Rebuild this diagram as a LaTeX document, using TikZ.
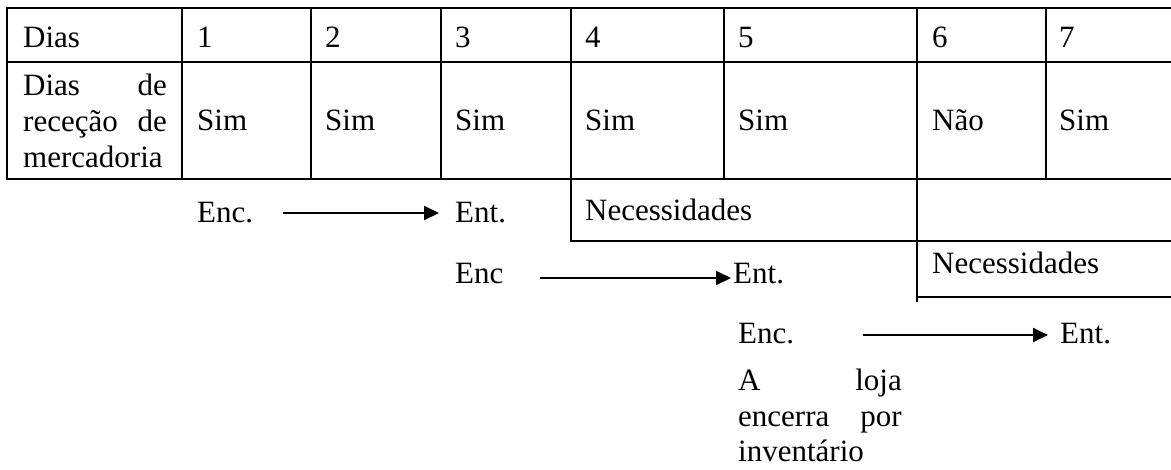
\documentclass[tikz,border=0pt]{standalone}
\usepackage{fontspec}
\setmainfont{Liberation Serif}
\usetikzlibrary{arrows.meta}
\begin{document}
\begin{tikzpicture}[x=1pt,y=-1pt,
 grid/.style={line width=2pt},
 txt/.style={anchor=base west, inner sep=0pt, font=\fontsize{31}{36}\selectfont},
 txtr/.style={anchor=base east, inner sep=0pt, font=\fontsize{31}{36}\selectfont},
 flow/.style={line width=2pt, -{Triangle[length=15pt,width=14pt]}}]
\useasboundingbox (0,0) rectangle (1171,469);
% table grid
\draw[grid] (6,8) -- (1171,8);
\draw[grid] (6,62) -- (1171,62);
\draw[grid] (6,179) -- (1171,179);
\foreach \x in {7,182,311,441,571,724,917,1046} \draw[grid] (\x,7) -- (\x,180);
% header row
\node[txt] (hdias) at (23,47) {Dias};
\node[txt] (h1) at (197,47) {1};
\node[txt] (h2) at (325,47) {2};
\node[txt] (h3) at (455,47) {3};
\node[txt] (h4) at (585,47) {4};
\node[txt] (h5) at (738,47) {5};
\node[txt] (h6) at (932,47) {6};
\node[txt] (h7) at (1059,47) {7};
% second row
\node[txt] (l1a) at (23,95) {Dias};
\node[txtr] (l1b) at (167,95) {de};
\node[txt] (l2a) at (23,131) {receção};
\node[txtr] (l2b) at (167,131) {de};
\node[txt] (l3a) at (23,167) {mercadoria};
\node[txt] (r1) at (197,130) {Sim};
\node[txt] (r2) at (325,130) {Sim};
\node[txt] (r3) at (455,130) {Sim};
\node[txt] (r4) at (585,130) {Sim};
\node[txt] (r5) at (738,130) {Sim};
\node[txt] (r6) at (932,130) {Não};
\node[txt] (r7) at (1059,130) {Sim};
% first order
\node[txt] (enc1) at (197,222) {Enc.};
\node[txt] (ent1) at (455,222) {Ent.};
\coordinate (a1s) at (283,213);
\coordinate (a1e) at (439,213);
\draw[flow] (a1s) -- (a1e);
\node[txt] (nec1) at (585,220) {Necessidades};
\draw[grid] (571,179) -- (571,241) -- (1171,241);
% second order
\node[txt] (enc2) at (455,283) {Enc};
\node[txt] (ent2) at (733,283) {Ent.};
\coordinate (a2s) at (540,278);
\coordinate (a2e) at (731,278);
\draw[flow] (a2s) -- (a2e);
\draw[grid] (917,179) -- (917,302);
\node[txt] (nec2) at (932,273) {Necessidades};
\draw[grid] (918,297) -- (1171,297);
% third order
\node[txt] (enc3) at (738,343) {Enc.};
\node[txt] (ent3) at (1060,343) {Ent.};
\coordinate (a3s) at (863,335);
\coordinate (a3e) at (1048,335);
\draw[flow] (a3s) -- (a3e);
% note
\node[txt] (n1a) at (738,390) {A};
\node[txtr] (n1b) at (902,390) {loja};
\node[txt] (n2a) at (738,426) {encerra};
\node[txtr] (n2b) at (902,426) {por};
\node[txt] (n3) at (738,461) {inventário};
\end{tikzpicture}
\end{document}
